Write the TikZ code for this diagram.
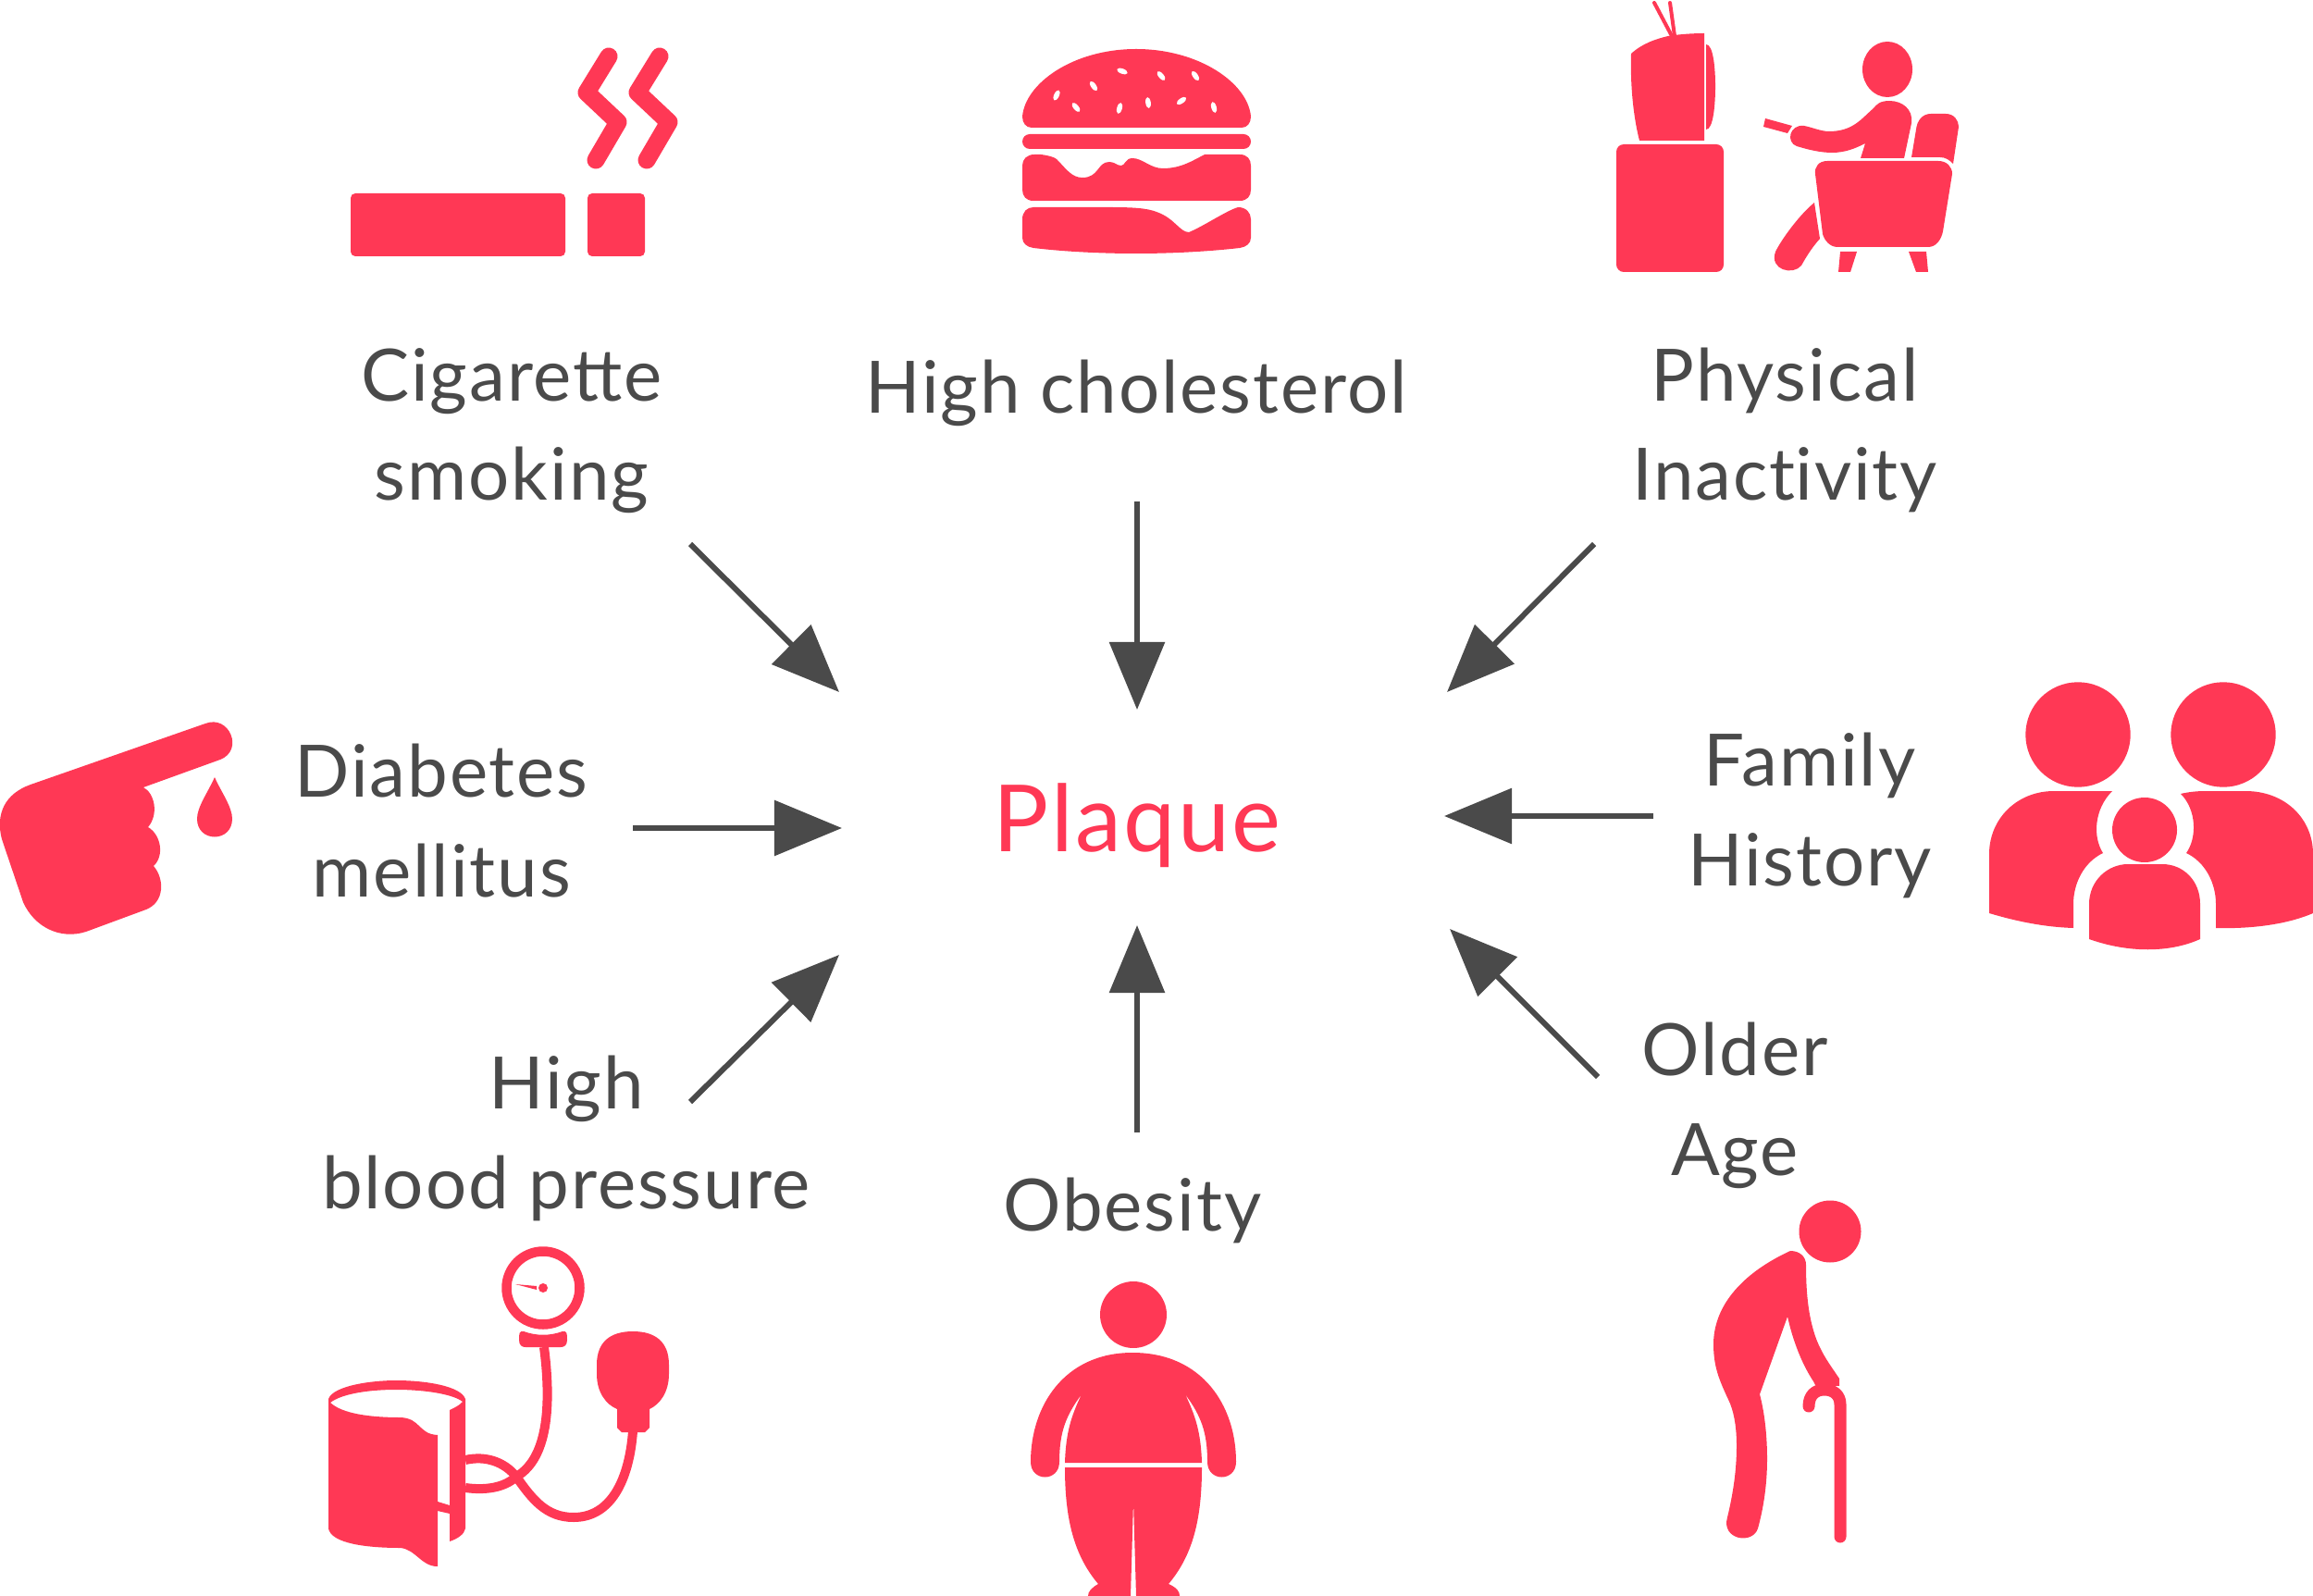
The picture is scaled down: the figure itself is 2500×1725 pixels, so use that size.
\documentclass[tikz,border=0pt]{standalone}
\usepackage{fontspec}
\setmainfont{Lato}[LetterSpace=2.4]
\usepackage{tikz}
\usetikzlibrary{arrows.meta}
\definecolor{plaquered}{HTML}{FF3855}
\definecolor{labelgray}{HTML}{4A4A4A}
\tikzset{
	icon/.style={fill=plaquered,draw=none},
	iconline/.style={draw=plaquered,fill=none,line cap=round,line join=round},
	seed/.style={fill=white,draw=none},
	risklabel/.style={text=labelgray,align=center,anchor=base,inner sep=0pt,font=\fontsize{22.2}{30.6}\selectfont},
	riskarrow/.style={draw=labelgray,line width=0.06cm,-{Triangle[length=0.73cm,width=0.59cm]}}
}
\begin{document}
\begin{tikzpicture}[x=0.01cm,y=-0.01cm]
	\useasboundingbox (0,0) rectangle (2500,1725);

	\node[risklabel,text=plaquered,font=\fontsize{28.5}{34}\selectfont] (plaque) at (1229,920) {Plaque};
	\node[risklabel] (cigarette) at (553,541) {Cigarette\\smoking};
	\node[risklabel] (cholesterol) at (1228,447) {High cholesterol};
	\node[risklabel] (inactivity) at (1929,541) {Physical\\Inact\kern0pt ivity};
	\node[risklabel] (diabetes) at (477,969) {Diabetes\\mellitus};
	\node[risklabel] (family) at (1956,957) {Family\\History};
	\node[risklabel] (pressure) at (612,1306) {High\\blood pressure};
	\node[risklabel] (obesity) at (1224,1330) {Obesity};
	\node[risklabel] (age) at (1875,1270) {Older\\Age};

	\coordinate (cigarettefrom) at (746,588);
	\coordinate (cigaretteto) at (907,748);
	\coordinate (cholesterolfrom) at (1229,542);
	\coordinate (cholesterolto) at (1229,767);
	\coordinate (inactivityfrom) at (1723,588);
	\coordinate (inactivityto) at (1564,748);
	\coordinate (familyfrom) at (1787,882);
	\coordinate (familyto) at (1561,882);
	\coordinate (agefrom) at (1727,1164);
	\coordinate (ageto) at (1567,1004);
	\coordinate (obesityfrom) at (1229,1224);
	\coordinate (obesityto) at (1229,1000);
	\coordinate (pressurefrom) at (746,1191);
	\coordinate (pressureto) at (907,1032);
	\coordinate (diabetesfrom) at (684,895);
	\coordinate (diabetesto) at (910,895);
	\draw[riskarrow] (cigarettefrom) -- (cigaretteto);
	\draw[riskarrow] (cholesterolfrom) -- (cholesterolto);
	\draw[riskarrow] (inactivityfrom) -- (inactivityto);
	\draw[riskarrow] (familyfrom) -- (familyto);
	\draw[riskarrow] (agefrom) -- (ageto);
	\draw[riskarrow] (obesityfrom) -- (obesityto);
	\draw[riskarrow] (pressurefrom) -- (pressureto);
	\draw[riskarrow] (diabetesfrom) -- (diabetesto);

	% cigarette
	\fill[icon,rounded corners=0.05cm] (379,209) rectangle (611,277);
	\fill[icon,rounded corners=0.05cm] (635,209) rectangle (697,277);
	\draw[iconline,line width=0.19cm] (658,61) -- (634,100) -- (668,132) -- (644,173);
	\draw[iconline,line width=0.19cm] (713,61) -- (689,100) -- (723,132) -- (699,173);

	% burger
	\fill[icon] (1115,138) .. controls (1109,138) and (1105,133) .. (1105,126) .. controls (1108,90) and (1160,53) .. (1228,53) .. controls (1296,53) and (1349,90) .. (1352,126) .. controls (1352,133) and (1348,138) .. (1342,138) -- cycle;
	\fill[seed,shift={(1213,77)},rotate=70] (0,0) circle [x radius=2.8,y radius=6];
	\fill[seed,shift={(1255,82)},rotate=40] (0,0) circle [x radius=2.8,y radius=6];
	\fill[seed,shift={(1292,82)},rotate=35] (0,0) circle [x radius=2.8,y radius=6];
	\fill[seed,shift={(1182,93)},rotate=35] (0,0) circle [x radius=2.8,y radius=6];
	\fill[seed,shift={(1142,103)},rotate=-25] (0,0) circle [x radius=2.8,y radius=6];
	\fill[seed,shift={(1163,116)},rotate=40] (0,0) circle [x radius=2.8,y radius=6];
	\fill[seed,shift={(1210,117)},rotate=-15] (0,0) circle [x radius=2.8,y radius=6];
	\fill[seed,shift={(1241,111)},rotate=8] (0,0) circle [x radius=2.8,y radius=6];
	\fill[seed,shift={(1277,109)},rotate=-55] (0,0) circle [x radius=2.8,y radius=6];
	\fill[seed,shift={(1312,116)},rotate=15] (0,0) circle [x radius=2.8,y radius=6];
	\fill[icon,rounded corners=0.08cm] (1105,145) rectangle (1352,161);
	\fill[icon] (1105,179) .. controls (1105,172) and (1110,167) .. (1118,167) -- (1125,167) .. controls (1133,168) and (1140,170) .. (1142,172) .. controls (1152,182) and (1158,192) .. (1170,192) .. controls (1188,192) and (1186,175) .. (1199,175) .. controls (1205,175) and (1207,179) .. (1212,179) .. controls (1216,179) and (1216,171) .. (1224,171) .. controls (1235,171) and (1243,182) .. (1257,182) .. controls (1277,182) and (1290,173) .. (1302,167) -- (1340,167) .. controls (1348,167) and (1352,172) .. (1352,179) -- (1352,205) .. controls (1352,212) and (1348,217) .. (1340,217) -- (1117,217) .. controls (1109,217) and (1105,212) .. (1105,205) -- cycle;
	\fill[icon] (1105,237) .. controls (1105,229) and (1110,224) .. (1117,224) -- (1200,224) .. controls (1225,224) and (1240,225) .. (1250,229) .. controls (1270,236) and (1275,251) .. (1285,251) .. controls (1300,245) and (1325,228) .. (1338,224) .. controls (1347,224) and (1352,230) .. (1352,237) -- (1352,257) .. controls (1352,263) and (1347,267) .. (1340,268) .. controls (1305,272) and (1265,274) .. (1228,274) .. controls (1190,274) and (1150,272) .. (1117,268) .. controls (1110,267) and (1105,263) .. (1105,257) -- cycle;

	% television and armchair
	\fill[icon,rounded corners=0.08cm] (1747,156) rectangle (1863,294);
	\fill[icon] (1763,58) .. controls (1775,47) and (1790,42) .. (1803,39) .. controls (1815,37) and (1830,36) .. (1842,36) -- (1842,152) -- (1772,152) .. controls (1765,125) and (1762,90) .. (1763,58) -- cycle;
	\fill[icon] (1844,48) .. controls (1852,48) and (1854,75) .. (1854,93) .. controls (1854,112) and (1852,140) .. (1844,140) -- cycle;
	\draw[iconline,line width=0.04cm] (1788,3) -- (1807,39);
	\draw[iconline,line width=0.04cm] (1805,3) -- (1810,39);
	\fill[icon] (2040,75) circle [x radius=27,y radius=30];
	\fill[icon] (2058,171) -- (2066,133) .. controls (2068,118) and (2056,109) .. (2042,109) .. controls (2032,109) and (2028,113) .. (2025,117) .. controls (2012,128) and (2003,142) .. (1977,142) .. controls (1968,142) and (1960,138) .. (1950,136) .. controls (1934,134) and (1930,154) .. (1942,158) .. controls (1955,162) and (1968,165) .. (1980,165) .. controls (1995,165) and (2006,160) .. (2016,155) -- (2011,171) -- cycle;
	\fill[icon] (1908,128) -- (1937,136) -- (1932,144) -- (1906,137) -- cycle;
	\fill[icon] (2066,170) -- (2071,140) .. controls (2072,130) and (2078,123) .. (2087,123) -- (2103,123) .. controls (2112,123) and (2117,130) .. (2117,137) -- (2111,177) .. controls (2107,173) and (2103,170) .. (2097,170) -- cycle;
	\fill[icon] (1962,188) .. controls (1961,180) and (1966,174) .. (1975,174) -- (2095,174) .. controls (2104,174) and (2110,180) .. (2110,188) -- (2100,250) .. controls (2098,260) and (2092,267) .. (2084,267) -- (1986,267) .. controls (1978,267) and (1972,260) .. (1970,253) -- cycle;
	\fill[icon] (1989,272) -- (2007,272) -- (2000,294) -- (1987,294) -- cycle;
	\fill[icon] (2063,272) -- (2082,272) -- (2084,294) -- (2071,294) -- cycle;
	\fill[icon] (1961,219) -- (1967,258) .. controls (1958,268) and (1952,278) .. (1947,287) .. controls (1938,298) and (1912,292) .. (1919,272) .. controls (1926,258) and (1945,232) .. (1961,219) -- cycle;

	% pointing hand
	\fill[icon] (33,848) -- (222,782) .. controls (248,772) and (264,811) .. (238,821) -- (155,851) .. controls (167,857) and (172,880) .. (160,894) .. controls (174,902) and (178,925) .. (166,936) .. controls (178,950) and (178,975) .. (158,983) -- (93,1007) .. controls (65,1016) and (37,1002) .. (25,975) -- (2,907) .. controls (-5,880) and (5,858) .. (33,848) -- cycle;
	\fill[icon] (232,840) .. controls (225,856) and (213,872) .. (213,885) .. controls (213,911) and (251,911) .. (251,885) .. controls (251,872) and (239,856) .. (232,840) -- cycle;

	% family
	\fill[icon] (2246,794) circle [radius=56.7];
	\fill[icon] (2403,794) circle [radius=56.7];
	\fill[icon] (2318,897) circle [radius=35];
	\fill[icon] (2283,855) -- (2220,855) .. controls (2180,855) and (2150,885) .. (2150,923) -- (2150,987) .. controls (2180,996) and (2210,1002) .. (2241,1003) -- (2241,977) .. controls (2241,955) and (2252,932) .. (2273,922) .. controls (2262,905) and (2263,875) .. (2283,855) -- cycle;
	\fill[icon] (2357,858) .. controls (2365,856) and (2375,855) .. (2383,855) -- (2427,855) .. controls (2470,855) and (2500,885) .. (2500,923) -- (2500,987) .. controls (2470,1000) and (2430,1004) .. (2395,1003) -- (2395,977) .. controls (2395,955) and (2384,932) .. (2363,922) .. controls (2375,905) and (2374,875) .. (2357,858) -- cycle;
	\fill[icon] (2258,1015) -- (2258,977) .. controls (2258,952) and (2278,934) .. (2300,934) -- (2337,934) .. controls (2360,934) and (2378,952) .. (2378,977) -- (2378,1015) .. controls (2345,1030) and (2300,1030) .. (2258,1015) -- cycle;

	% blood pressure cuff
	\draw[iconline,line width=0.105cm] (587,1392) circle [radius=39.5];
	\fill[icon] (587,1392) circle [radius=5];
	\fill[icon] (557,1388) -- (580,1390) -- (580,1394) -- cycle;
	\fill[icon] (566,1439) .. controls (580,1444) and (594,1444) .. (608,1439) .. controls (613,1438) and (613,1442) .. (613,1448) .. controls (613,1454) and (610,1456) .. (606,1456) -- (568,1456) .. controls (564,1456) and (561,1454) .. (561,1448) .. controls (561,1442) and (561,1438) .. (566,1439) -- cycle;
	\draw[iconline,line cap=butt,line width=0.1cm] (588,1456) .. controls (595,1510) and (595,1575) .. (558,1596) .. controls (545,1608) and (525,1611) .. (503,1608);
	\draw[iconline,line cap=butt,line width=0.1cm] (503,1578) .. controls (525,1573) and (545,1580) .. (558,1596) .. controls (575,1620) and (590,1640) .. (620,1640) .. controls (660,1640) and (680,1600) .. (684,1547);
	\fill[icon] (667,1523) .. controls (655,1518) and (645,1505) .. (645,1485) -- (645,1475) .. controls (645,1450) and (660,1439) .. (684,1439) .. controls (708,1439) and (723,1450) .. (723,1475) -- (723,1485) .. controls (723,1505) and (713,1518) .. (702,1523) -- (702,1543) -- (697,1548) -- (672,1548) -- (667,1543) -- cycle;
	\fill[icon,even odd rule] (355,1512) .. controls (360,1498) and (400,1492) .. (428,1492) .. controls (460,1492) and (498,1498) .. (503,1512) -- (503,1652) .. controls (502,1658) and (495,1663) .. (486,1666) -- (486,1636) -- (473,1633) -- (473,1693) .. controls (455,1693) and (450,1675) .. (433,1673) .. controls (395,1673) and (358,1668) .. (355,1652) -- cycle
		(357,1516) .. controls (370,1506) and (400,1502) .. (428,1502) .. controls (460,1502) and (490,1507) .. (500,1515) .. controls (497,1519) and (490,1522) .. (486,1524) -- (486,1627) -- (473,1623) -- (473,1551) .. controls (452,1550) and (455,1533) .. (433,1532) .. controls (400,1532) and (370,1528) .. (357,1516) -- cycle;

	% obese figure
	\fill[icon] (1225,1421) circle [radius=36];
	\fill[icon] (1114,1580) .. controls (1114,1520) and (1150,1462) .. (1224,1462) .. controls (1300,1462) and (1336,1520) .. (1336,1580) .. controls (1336,1602) and (1305,1602) .. (1305,1580) .. controls (1305,1548) and (1298,1530) .. (1281,1507) .. controls (1292,1530) and (1298,1548) .. (1299,1581) -- (1151,1581) .. controls (1152,1548) and (1158,1530) .. (1169,1507) .. controls (1152,1530) and (1145,1548) .. (1145,1580) .. controls (1145,1602) and (1114,1602) .. (1114,1580) -- cycle;
	\fill[icon] (1151,1586) -- (1299,1586) .. controls (1299,1640) and (1290,1680) .. (1263,1712) .. controls (1272,1716) and (1275,1720) .. (1275,1725) -- (1228,1725) -- (1225,1623) -- (1222,1725) -- (1176,1725) .. controls (1176,1720) and (1180,1716) .. (1187,1712) .. controls (1160,1680) and (1151,1640) .. (1151,1586) -- cycle;

	% old man with cane
	\fill[icon] (1978,1331) circle [radius=33.5];
	\fill[icon] (1935,1352) .. controls (1945,1352) and (1952,1358) .. (1952,1367) .. controls (1952,1400) and (1955,1425) .. (1963,1447) .. controls (1970,1465) and (1978,1475) .. (1988,1490) -- (1988,1498) -- (1962,1497) -- (1960,1493) .. controls (1948,1475) and (1938,1450) .. (1932,1423) -- (1902,1507) .. controls (1908,1530) and (1910,1555) .. (1910,1577) .. controls (1910,1605) and (1906,1630) .. (1900,1652) .. controls (1894,1670) and (1860,1664) .. (1867,1640) .. controls (1873,1615) and (1877,1590) .. (1877,1563) .. controls (1877,1545) and (1875,1530) .. (1870,1517) .. controls (1860,1495) and (1852,1480) .. (1852,1453) .. controls (1852,1410) and (1885,1375) .. (1935,1352) -- cycle;
	\draw[iconline,line width=0.13cm] (1989,1661) -- (1989,1518) .. controls (1989,1508) and (1982,1502) .. (1972,1502) .. controls (1962,1502) and (1955,1508) .. (1955,1520);
\end{tikzpicture}
\end{document}
